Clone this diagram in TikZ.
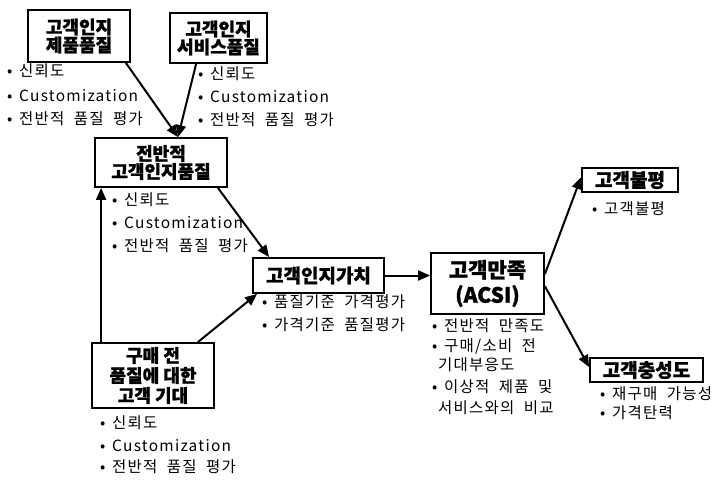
\documentclass[tikz,border=0pt]{standalone}
\usepackage{fontspec}
\setmainfont{Noto Sans CJK KR}[BoldFeatures={FakeBold=1.2}]
\newfontfamily\bulfont[LetterSpace=8,WordSpace=2]{Noto Sans CJK KR}
\usetikzlibrary{arrows.meta,calc}
\newcommand\bulitem[1]{\makebox[12pt][l]{•}#1}
\begin{document}
\begin{tikzpicture}[x=1pt,y=-1pt,
  box/.style={draw, line width=1.8pt, inner sep=0pt, align=center,
    font=\bfseries\fontsize{18}{18}\selectfont},
  bul/.style={anchor=west, inner sep=0pt, text height=11pt, text depth=3pt,
    font=\bulfont\fontsize{15.5}{16}\selectfont},
  arr/.style={line width=2pt, -{Triangle[length=12pt,width=10pt]}}
]
\useasboundingbox (0,0) rectangle (719,480);

% boxes
\node[box, minimum width=102pt, minimum height=52pt] (b1) at (79,36) {고객인지\\제품품질};
\node[box, minimum width=97pt, minimum height=50pt] (b2) at (218.5,38) {고객인지\\서비스품질};
\node[box, minimum width=132pt, minimum height=49pt] (b3) at (161,162.5) {전반적\\고객인지품질};
\node[box, minimum width=131pt, minimum height=35pt, font=\bfseries\fontsize{19}{19}\selectfont] (b4) at (318.5,275.5) {고객인지가치};
\node[box, minimum width=113pt, minimum height=61pt, font=\bfseries\fontsize{21}{25}\selectfont] (b5) at (487.5,283.5) {고객만족\\(ACSI)};
\node[box, minimum width=96pt, minimum height=24pt, font=\bfseries\fontsize{19}{19}\selectfont] (b6) at (630,180) {고객불평};
\node[box, minimum width=113pt, minimum height=24pt, font=\bfseries\fontsize{19}{19}\selectfont] (b7) at (646.5,370) {고객충성도};
\node[box, minimum width=122pt, minimum height=65pt, font=\bfseries\fontsize{18}{20}\selectfont] (b8) at (153,375.5) {구매 전\\품질에 대한\\고객 기대};

% bullet lists
\node[bul] (l1a) at (7,72.5) {\bulitem{신뢰도}};
\node[bul] (l1b) at (7,97) {\bulitem{Customization}};
\node[bul] (l1c) at (7,120) {\bulitem{전반적 품질 평가}};

\node[bul] (l2a) at (198,75) {\bulitem{신뢰도}};
\node[bul] (l2b) at (198,98) {\bulitem{Customization}};
\node[bul] (l2c) at (198,121) {\bulitem{전반적 품질 평가}};

\node[bul] (l3a) at (112,201.5) {\bulitem{신뢰도}};
\node[bul] (l3b) at (112,224) {\bulitem{Customization}};
\node[bul] (l3c) at (112,247.5) {\bulitem{전반적 품질 평가}};

\node[bul] (l4a) at (262,303) {\bulitem{품질기준 가격평가}};
\node[bul] (l4b) at (262,326) {\bulitem{가격기준 품질평가}};

\node[bul] (l5a) at (432,327) {\bulitem{전반적 만족도}};
\node[bul] (l5b) at (432,347.5) {\bulitem{구매/소비 전}};
\node[bul] (l5c) at (438,366) {기대부응도};
\node[bul] (l5d) at (432,388) {\bulitem{이상적 제품 및}};
\node[bul] (l5e) at (438,409) {서비스와의 비교};

\node[bul] (l6a) at (592,210) {\bulitem{고객불평}};

\node[bul] (l7a) at (600,395) {\bulitem{재구매 가능성}};
\node[bul] (l7b) at (600,414) {\bulitem{가격탄력}};

\node[bul] (l8a) at (100,424) {\bulitem{신뢰도}};
\node[bul] (l8b) at (100,447) {\bulitem{Customization}};
\node[bul] (l8c) at (100,468) {\bulitem{전반적 품질 평가}};

% connectors
\coordinate (m3) at ($(b3.north)+(17,0)$);
\draw[arr] ($(b1.south east)+(-5,0)$) -- (m3);
\draw[arr] ($(b2.south west)+(27,0)$) -- (m3);
\draw[arr] ($(b3.south east)+(-10,0)$) -- ($(b4.north west)+(17,0)$);
\draw[arr] ($(b8.north west)+(10,0)$) -- ($(b3.south west)+(7,0)$);
\draw[arr] ($(b8.north east)+(-17,0)$) -- ($(b4.south west)+(5,0)$);
\draw[arr] (b4.east) -- (b4.east -| b5.west);
\draw[arr] ($(b5.north east)+(0,22)$) -- ($(b6.north west)+(0,10)$);
\draw[arr] ($(b5.north east)+(0,34)$) -- ($(b7.north west)+(0,10)$);
\end{tikzpicture}
\end{document}
